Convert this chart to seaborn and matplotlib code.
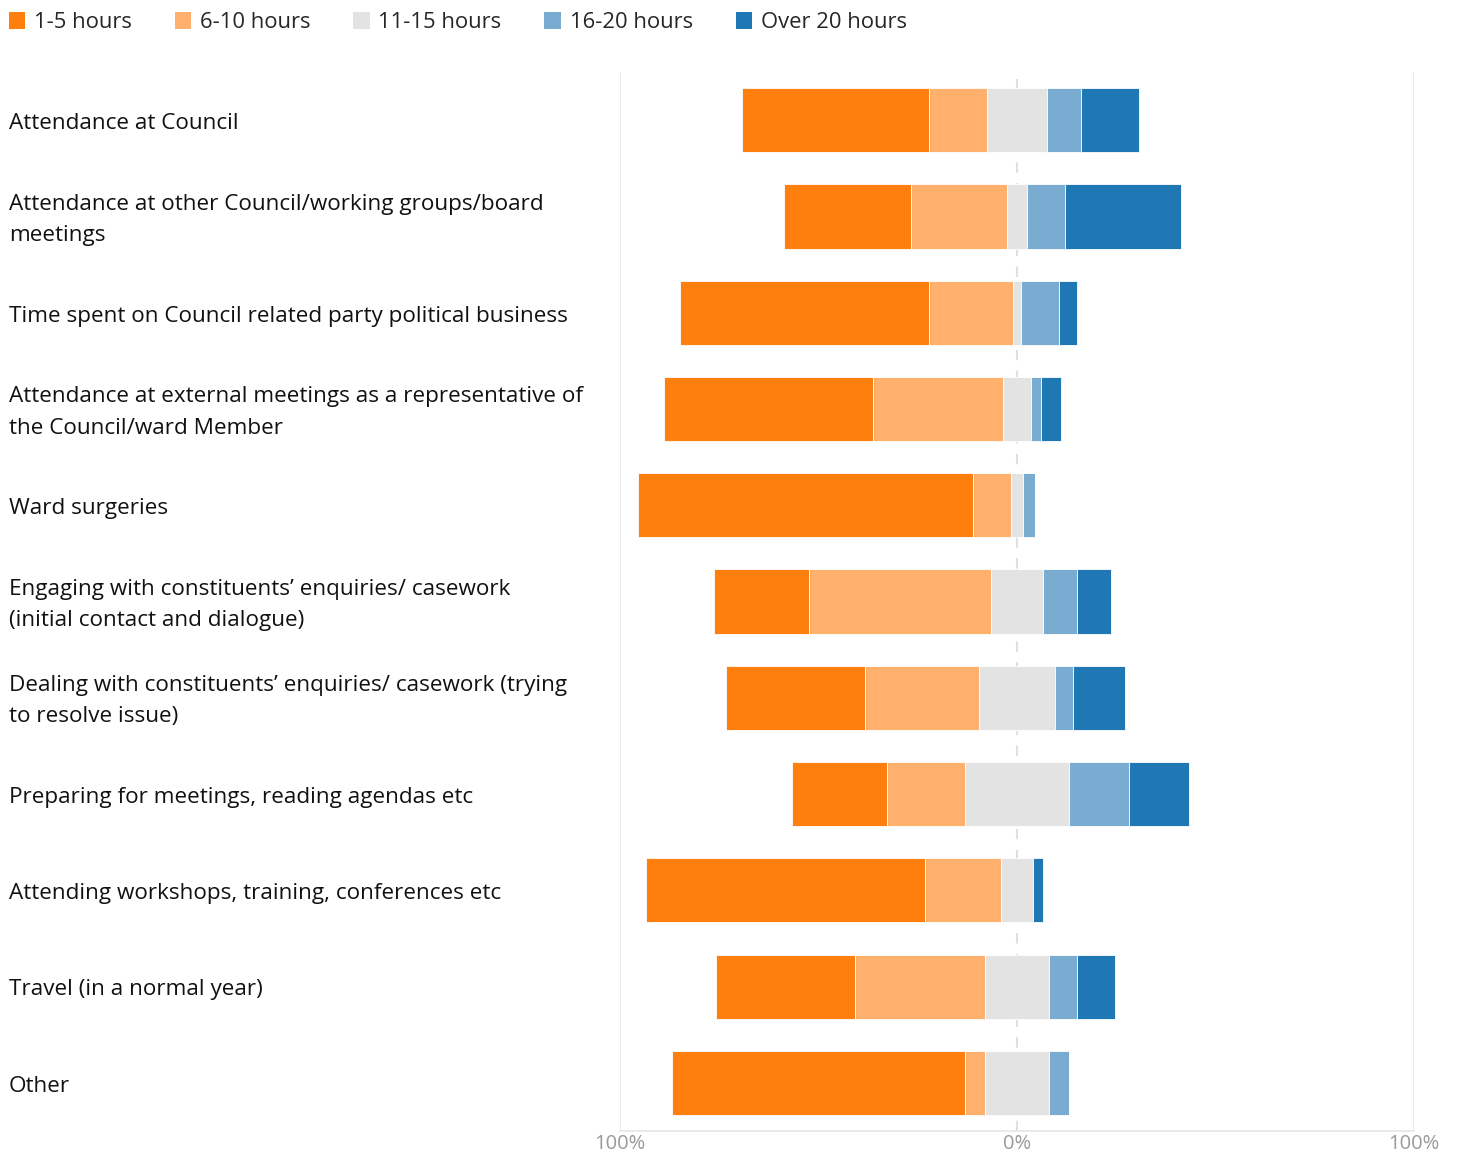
import numpy as np
import pandas as pd
import matplotlib
matplotlib.use("Agg")
import matplotlib.pyplot as plt
from matplotlib.patches import Patch
from matplotlib.transforms import blended_transform_factory
import seaborn as sns

# Share of members (%) in each time band, per activity
activities = [
    "Attendance at Council",
    "Attendance at other Council/working groups/board\nmeetings",
    "Time spent on Council related party political business",
    "Attendance at external meetings as a representative of\nthe Council/ward Member",
    "Ward surgeries",
    "Engaging with constituents\u2019 enquiries/ casework\n(initial contact and dialogue)",
    "Dealing with constituents\u2019 enquiries/ casework (trying\nto resolve issue)",
    "Preparing for meetings, reading agendas etc",
    "Attending workshops, training, conferences etc",
    "Travel (in a normal year)",
    "Other",
]
bands = ["1-5 hours", "6-10 hours", "11-15 hours", "16-20 hours", "Over 20 hours"]

hours_1_5   = [47.1, 32.0, 62.7, 52.6, 84.4, 23.9, 35.0, 23.9, 70.3, 35.0, 73.8]
hours_6_10  = [14.6, 24.2, 21.2, 32.7,  9.6, 45.8, 28.7, 19.6, 19.1, 32.7,  5.0]
hours_11_15 = [15.1,  5.0,  2.0,  7.1,  3.0, 13.1, 19.1, 26.2,  8.1, 16.1, 16.1]
hours_16_20 = [ 8.6,  9.6,  9.6,  2.5,  3.0,  8.6,  4.5, 15.1,  0.0,  7.1,  5.0]
hours_over20 = [14.6, 29.2, 4.5,  5.0,  0.0,  8.6, 13.1, 15.1,  2.5,  9.6,  0.0]

colors = ["#ff7f0e", "#ffb06c", "#e3e3e3", "#7aacd2", "#1f77b4"]

values = np.array([hours_1_5, hours_6_10, hours_11_15, hours_16_20, hours_over20])
# Diverging layout: the middle band is split evenly around zero
start = -(values[0] + values[1] + values[2] / 2.0)
lefts = start + np.vstack([np.zeros(len(activities)), np.cumsum(values, axis=0)[:-1]])

sns.set_style("white")
plt.rcParams["font.family"] = ["Open Sans", "DejaVu Sans"]

fig = plt.figure(figsize=(14.62, 11.54), dpi=100)
ax = fig.add_axes([0.4241, 0.0199, 0.5431, 0.9177])

ids = [str(i) for i in range(len(activities))]
for band, vals, left, col in zip(bands, values, lefts, colors):
    df = pd.DataFrame({"activity": ids, "share": vals})
    sns.barplot(data=df, x="share", y="activity", order=ids, orient="h",
                left=left, color=col, width=0.667, saturation=1,
                edgecolor="white", linewidth=0.6, ax=ax)

ax.set_xlim(-100, 100)
ax.set_ylim(10.5, -0.5)
ax.set_xlabel("")
ax.set_ylabel("")
ax.set_yticks([])
ax.set_xticks([-100, 0, 100])
ax.set_xticklabels(["100%", "0%", "100%"], color="#9a9a9a", fontsize=14.5)
ax.tick_params(axis="x", length=0, pad=2)
for side in ["top", "left", "right"]:
    ax.spines[side].set_visible(False)
ax.spines["bottom"].set_color("#e6e6e6")
ax.spines["bottom"].set_linewidth(1.2)

for xv in (-100, 100):
    ax.axvline(xv, color="#e6e6e6", lw=1.2, zorder=0)
ax.axvline(0, color="#e0e0e0", lw=1.5, ls=(0, (5, 5)), zorder=0)

trans = blended_transform_factory(fig.transFigure, ax.transData)
for i, name in enumerate(activities):
    ax.text(0.0062, i + 0.035, name, transform=trans, ha="left", va="center",
            fontsize=16.2, color="#111111", linespacing=1.66)

handles = [Patch(facecolor=c, edgecolor="none") for c in colors]
fig.legend(handles, bands, loc="upper left", bbox_to_anchor=(-0.0015, 0.999),
           ncol=5, frameon=False, fontsize=15.8, handlelength=0.75,
           handleheight=0.75, handletextpad=0.4, columnspacing=1.95,
           borderaxespad=0.2, borderpad=0.3)

fig.savefig("out.png", dpi=100)
